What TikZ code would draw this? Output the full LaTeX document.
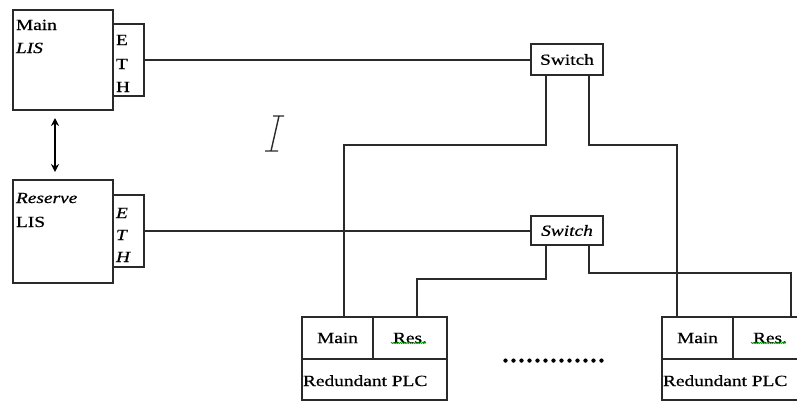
\documentclass[tikz,border=0pt]{standalone}
\usepackage{fontspec}
\setmainfont[FakeStretch=1.25,FakeBold=0.6]{Liberation Serif}
\newfontfamily\dotfont[FakeBold=1]{Liberation Serif}
\usetikzlibrary{arrows.meta,calc,decorations.pathmorphing}
\definecolor{ink}{HTML}{2A2A2A}
\tikzset{
  box/.style={draw=ink, line width=1.4pt, fill=white, inner sep=0pt, outer sep=0pt},
  wire/.style={draw=ink, line width=1.5pt},
  lbl/.style={inner sep=0pt, outer sep=0pt, font=\fontsize{15.5}{18}\selectfont, text=black},
  squig/.style={draw=green!60!black, line width=0.7pt, decorate, decoration={snake, amplitude=0.6pt, segment length=2.2pt}}
}
\begin{document}
\begin{tikzpicture}[x=1pt,y=-1pt]
\useasboundingbox (0,0) rectangle (797,402);
\clip (0,0) rectangle (797,402);
% LIS boxes
\node[box, minimum width=100, minimum height=100] (mainlis) at (63,60) {};
\node[box, minimum width=31, minimum height=72] (eth1) at (128.5,60) {};
\node[box, minimum width=100, minimum height=103] (reslis) at (63,231.5) {};
\node[box, minimum width=31, minimum height=72] (eth2) at (128.5,231) {};
\node[lbl, anchor=base west] (t1) at (16,30) {Main};
\node[lbl, anchor=base west] (t2) at (16,53) {\itshape LIS};
\node[lbl, anchor=base west] (t3) at (16,203) {\itshape Reserve};
\node[lbl, anchor=base west] (t4) at (16,227) {LIS};
\node[lbl, anchor=base west] (e1) at (116,45) {E};
\node[lbl, anchor=base west] (e2) at (116,69) {T};
\node[lbl, anchor=base west] (e3) at (116,92) {H};
\node[lbl, anchor=base west] (f1) at (116,218) {\itshape E};
\node[lbl, anchor=base west] (f2) at (116,240) {\itshape T};
\node[lbl, anchor=base west] (f3) at (116,262) {\itshape H};
% switches
\node[box, minimum width=72, minimum height=31, lbl, draw=ink, line width=1.4pt] (sw1) at (567,59.5) {Switch};
\node[box, minimum width=72, minimum height=29, lbl, draw=ink, line width=1.4pt] (sw2) at (567,230.5) {\itshape Switch};
% PLC 1
\node[box, minimum width=71, minimum height=42, lbl, draw=ink, line width=1.4pt] (m1) at (337.5,338) {Main};
\node[box, minimum width=74, minimum height=42, lbl, draw=ink, line width=1.4pt] (r1) at (410,338) {Res.};
\node[box, minimum width=145, minimum height=41] (b1) at (374.5,379.5) {};
\node[lbl, anchor=base west] (p1) at (303,386) {Redundant PLC};
% PLC 2
\node[box, minimum width=71, minimum height=42, lbl, draw=ink, line width=1.4pt] (m2) at (697.5,338) {Main};
\node[box, minimum width=74, minimum height=42, lbl, draw=ink, line width=1.4pt] (r2) at (770,338) {Res.};
\node[box, minimum width=145, minimum height=41] (b2) at (734.5,379.5) {};
\node[lbl, anchor=base west] (p2) at (663,386) {Redundant PLC};
% spelling squiggles
\draw[squig] ($(r1.center)+(-19,5)$) -- ($(r1.center)+(16,5)$);
\draw[squig] ($(r2.center)+(-19,5)$) -- ($(r2.center)+(16,5)$);
% dots
\node[inner sep=0pt, font=\dotfont\fontsize{32}{32}\selectfont, anchor=base] (dots) at (553.5,362) {.............};
% connectors
\draw[wire] (eth1.east) -- (eth1.east -| sw1.west);
\draw[wire] (eth2.east) -- (eth2.east -| sw2.west);
\draw[wire] ([xshift=-21]sw1.south) -- ++(0,70) -| ([xshift=6.5]m1.north);
\draw[wire] ([xshift=22]sw1.south) -- ++(0,70) -| ([xshift=-20.5]m2.north);
\draw[wire] ([xshift=-21]sw2.south) -- ++(0,34) -| ([xshift=7]r1.north);
\draw[wire] ([xshift=22]sw2.south) -- ++(0,28) -| ([xshift=21]r2.north);
\draw[line width=2.6pt, black, {Stealth[length=8pt,width=8pt]}-{Stealth[length=8pt,width=8pt]}] ($(mainlis.south)+(-8,8)$) -- ($(reslis.north)+(-8,-8)$);
% text cursor
\draw[ink, line width=1.4pt] (273,116) -- (284,116) (279,116) -- (271,151) (265,151) -- (278,151);
\end{tikzpicture}
\end{document}
